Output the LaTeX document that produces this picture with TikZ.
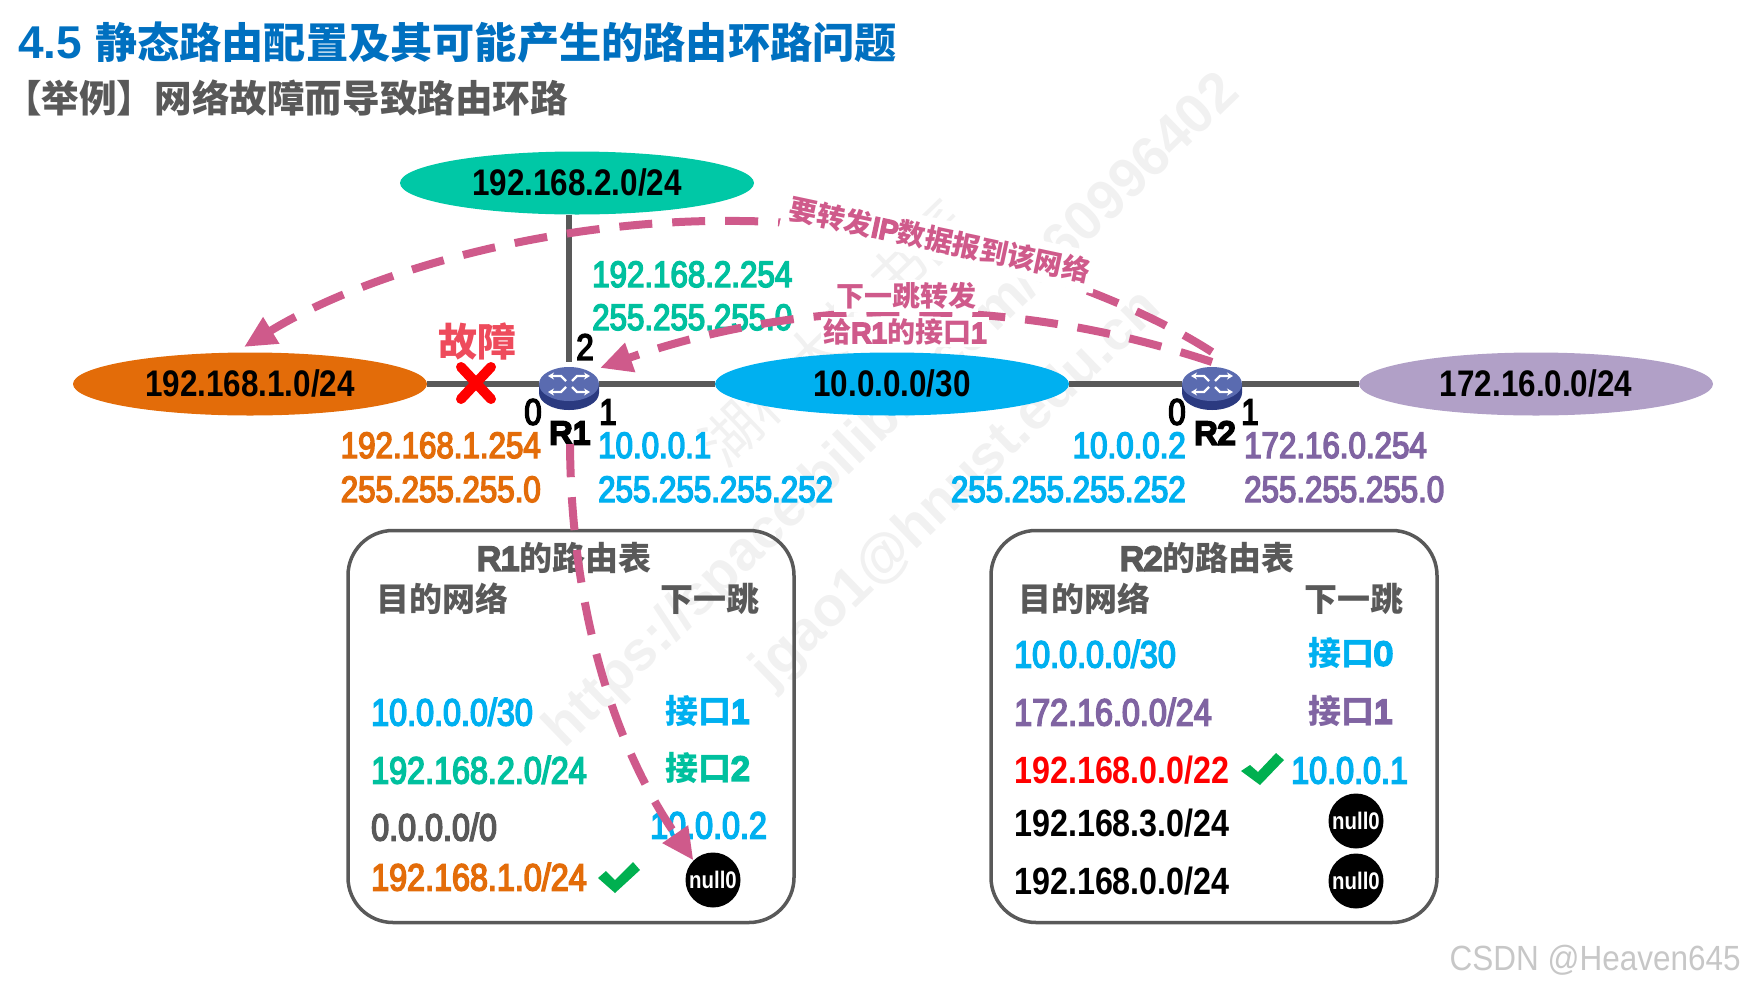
\documentclass[tikz,border=0pt]{standalone}
\usepackage{fontspec}
\usetikzlibrary{shapes.geometric,arrows.meta}
\setmainfont{Liberation Sans}
\newfontfamily\nf{Liberation Sans}[FakeStretch=.85]
\newfontfamily\nm{Liberation Sans}[FakeStretch=.85,FakeBold=4]
\newfontfamily\nk{Liberation Sans}[FakeBold=9]
\newfontfamily\nc{Liberation Sans}[FakeStretch=.9]
\newfontfamily\cj{Noto Sans CJK SC}
\definecolor{cgray}{HTML}{595959}
\definecolor{cgreen}{HTML}{00C8A6}
\definecolor{cgreent}{HTML}{00C09E}
\definecolor{corange}{HTML}{E36C09}
\definecolor{cblue}{HTML}{00B0F0}
\definecolor{cpurple}{HTML}{B1A0C7}
\definecolor{cpurplet}{HTML}{8064A2}
\definecolor{cpink}{HTML}{CF5A8B}
\definecolor{ctitle}{HTML}{0070C0}
\definecolor{ccheck}{HTML}{00B050}
\definecolor{cfault}{HTML}{EE4B5C}
\definecolor{cwm}{HTML}{F1F1F1}
\definecolor{crtop}{HTML}{5A6BB0}
\definecolor{crbase}{HTML}{2B3A80}
\newcommand{\routericon}[1]{%
  \begin{scope}[shift={(#1)}]
    \fill[crbase] (-30,0) -- (30,0) -- (30,9) arc[x radius=30pt,y radius=17pt,start angle=0,end angle=-180] -- cycle;
    \fill[crtop] (0,0) ellipse[x radius=30pt,y radius=17pt];
    \foreach \sx/\sy in {1/1,1/-1,-1/1,-1/-1}{
      \draw[white,line width=2.4pt,-{Stealth[length=6pt,width=7pt]}] (3*\sx,3*\sy) -- (8*\sx,8*\sy) -- (21*\sx,8*\sy);
    }
  \end{scope}}
\tikzset{
  netell/.style={ellipse,minimum width=354pt,minimum height=63pt,inner sep=0pt,text=black,
    font=\fontsize{37}{37}\selectfont\nf\bfseries,text height=25pt,text depth=0pt},
  ip/.style={inner sep=0pt,font=\fontsize{36.8}{37}\selectfont\nm,text height=24pt,text depth=0pt},
  rowt/.style={inner sep=0pt,anchor=west,font=\fontsize{38}{38}\selectfont\nm,text height=25pt,text depth=0pt},
  rowb/.style={rowt,font=\fontsize{38}{38}\selectfont\nf\bfseries},
  cn/.style={inner sep=0pt,anchor=west,font=\fontsize{33}{33}\selectfont\nk,text height=27pt,text depth=3pt},
  port/.style={inner sep=0pt,font=\fontsize{37}{37}\selectfont\nm,text=black},
  rname/.style={inner sep=0pt,font=\fontsize{32}{32}\selectfont\nk,text=black},
  tbl/.style={draw=cgray,line width=3.5pt,rounded corners=45pt,minimum width=446pt,minimum height=392pt,inner sep=0pt},
  nullc/.style={circle,fill=black,text=white,minimum size=55pt,inner sep=0pt,font=\fontsize{24}{24}\selectfont\nf\bfseries},
  wire/.style={draw=cgray,line width=6pt},
  route/.style={draw=cpink,line width=8pt,dash pattern=on 33pt off 20pt,-{Triangle[length=32pt,width=29pt]}},
  pinklab/.style={fill=white,inner sep=2pt,text=cpink,font=\fontsize{28}{28}\selectfont\nk},
  wmk/.style={text=cwm,inner sep=0pt,rotate=44,font=\fontsize{55.5}{56}\selectfont\bfseries},
  rbody/.style={ellipse,minimum width=60pt,minimum height=44pt,inner sep=0pt}
}
\newcommand{\cjb}{\cj\bfseries}
\begin{document}
\begin{tikzpicture}[x=1pt,y=-1pt]
\useasboundingbox (0,0) rectangle (1745,991);
% watermark
\node[wmk] (wm1) at (893,412) {https://space.bilibili.com/360996402};
\node[wmk] (wm2) at (957,490) {jgao1@hnust.edu.cn};
\node[wmk,font=\fontsize{58}{58}\selectfont\cj] (wm3) at (835,333) {湖科大教书匠};
% titles
\node[inner sep=0pt,anchor=west,text=ctitle,font=\fontsize{46}{46}\selectfont\bfseries] (title) at (18,42) {4.5\hspace{13pt}{\fontsize{42.2}{42}\selectfont\cjb 静态路由配置及其可能产生的路由环路问题}};
\node[inner sep=0pt,anchor=west,text=cgray,font=\fontsize{37.6}{37.6}\selectfont\cjb] (sub) at (4,98) {【举例】网络故障而导致路由环路};
% routers
\node[rbody] (r1) at (569,384) {};
\node[rbody] (r2) at (1212,384) {};
% networks
\node[netell,fill=cgreen] (n2) at (577,183) {192.168.2.0/24};
\node[netell,fill=corange] (n1) at (250,384) {192.168.1.0/24};
\node[netell,fill=cblue] (n0) at (892,384) {10.0.0.0/30};
\node[netell,fill=cpurple] (n3) at (1536,384) {172.16.0.0/24};
% wires
\draw[wire] (n2.south -| r1) -- (r1.north);
\draw[wire] (n1.east) -- (r1.west);
\draw[wire] (r1.east) -- (n0.west);
\draw[wire] (n0.east) -- (r2.west);
\draw[wire] (r2.east) -- (n3.west);
\routericon{569,384}
\routericon{1212,384}
% fault
\node[inner sep=0pt,text=cfault,font=\fontsize{39}{39}\selectfont\cjb] (fault) at (477,341) {故障};
\coordinate (xc) at (476,383);
\draw[red,line width=10pt,line cap=round] ([shift={(-15pt,16pt)}]xc) -- ([shift={(15pt,-16pt)}]xc);
\draw[red,line width=10pt,line cap=round] ([shift={(-15pt,-16pt)}]xc) -- ([shift={(15pt,16pt)}]xc);
% ports
\node[port] (p10) at (533,412) {0};
\node[port] (p11) at (608,412) {1};
\node[port] (p12) at (585,347) {2};
\node[rname] (r1lab) at (570,433) {R1};
\node[port] (p20) at (1177,412) {0};
\node[port] (p21) at (1250,412) {1};
\node[rname] (r2lab) at (1215,433) {R2};
% addresses
\node[ip,anchor=west,text=cgreent] (a1) at (592,275) {192.168.2.254};
\node[ip,anchor=west,text=cgreent] (a2) at (592,318) {255.255.255.0};
\node[ip,anchor=east,text=corange] (a3) at (541,446) {192.168.1.254};
\node[ip,anchor=east,text=corange] (a4) at (541,490) {255.255.255.0};
\node[ip,anchor=west,text=cblue] (a5) at (598,446) {10.0.0.1};
\node[ip,anchor=west,text=cblue] (a6) at (598,490) {255.255.255.252};
\node[ip,anchor=east,text=cblue] (a7) at (1186,446) {10.0.0.2};
\node[ip,anchor=east,text=cblue] (a8) at (1186,490) {255.255.255.252};
\node[ip,anchor=west,text=cpurplet] (a9) at (1244,446) {172.16.0.254};
\node[ip,anchor=west,text=cpurplet] (a10) at (1244,490) {255.255.255.0};
% R1 table
\node[tbl] (t1) at (571,726.5) {};
\node[cn,text=cgray] (t1a) at (477,558) {R1{\cjb 的路由表}};
\node[cn,text=cgray] (t1b) at (376,599) {\cjb 目的网络};
\node[cn,text=cgray] (t1c) at (660,599) {\cjb 下一跳};
\node[rowt,text=cblue] (t1d) at (371,713) {10.0.0.0/30};
\node[cn,text=cblue] (t1e) at (665,711) {{\cjb 接口}1};
\node[rowt,text=cgreent] (t1f) at (371,771) {192.168.2.0/24};
\node[cn,text=cgreent] (t1g) at (665,768) {{\cjb 接口}2};
\node[rowt,text=cgray] (t1h) at (371,828) {0.0.0.0/0};
\node[rowt,text=cblue] (t1i) at (650,826) {10.0.0.2};
\node[rowt,text=corange] (t1j) at (371,878) {192.168.1.0/24};
\fill[ccheck] (598,878) -- (606,871) -- (615,880) -- (633,862) -- (640,870) -- (615,893) -- cycle;
\node[nullc] (null1) at (713,880) {null0};
% R2 table
\node[tbl] (t2) at (1214,726.5) {};
\node[cn,text=cgray] (t2a) at (1120,558) {R2{\cjb 的路由表}};
\node[cn,text=cgray] (t2b) at (1018,599) {\cjb 目的网络};
\node[cn,text=cgray] (t2c) at (1304,599) {\cjb 下一跳};
\node[rowt,text=cblue] (t2d) at (1014,655) {10.0.0.0/30};
\node[cn,text=cblue] (t2e) at (1308,653) {{\cjb 接口}0};
\node[rowt,text=cpurplet] (t2f) at (1014,713) {172.16.0.0/24};
\node[cn,text=cpurplet] (t2g) at (1308,711) {{\cjb 接口}1};
\node[rowb,text=red] (t2h) at (1014,771) {192.168.0.0/22};
\fill[ccheck] (1241,771) -- (1250,765) -- (1258,772) -- (1276,753) -- (1284,760) -- (1260,785) -- cycle;
\node[rowt,text=cblue] (t2i) at (1291,771) {10.0.0.1};
\node[rowb,text=black] (t2j) at (1014,824) {192.168.3.0/24};
\node[nullc] (null2) at (1356,821) {null0};
\node[rowb,text=black] (t2k) at (1014,882) {192.168.0.0/24};
\node[nullc] (null3) at (1356,881) {null0};
% routes
\coordinate (r1tip) at (600,368);
\coordinate (r2top) at (1212,352);
\coordinate (r2low) at (1212,362);
\coordinate (n1tip) at (244,347);
\coordinate (am) at (740,221);
\coordinate (bm) at (900,312);
\draw[route] (r2top) .. controls (1100,280) and (900,222) .. (am) .. controls (560,218) and (370,270) .. (n1tip);
\draw[route] (r2low) .. controls (1100,325) and (1000,312) .. (bm) .. controls (780,312) and (680,340) .. (r1tip);
\draw[route] (r1lab.south) .. controls (571,600) and (610,740) .. (null1.135);
% route labels
\node[pinklab,rotate=-12,inner sep=7pt] (l1) at (940,240) {{\cjb 要转发}IP{\cjb 数据报到该网络}};
\node[pinklab] (l2) at (906,296) {\cjb 下一跳转发};
\node[pinklab] (l3) at (905,332) {{\cjb 给}R1{\cjb 的接口}1};
% credit
\node[inner sep=0pt,anchor=east,text=black!22,font=\fontsize{35}{35}\selectfont\nc] (csdn) at (1741,960) {CSDN @Heaven645};
\end{tikzpicture}
\end{document}
